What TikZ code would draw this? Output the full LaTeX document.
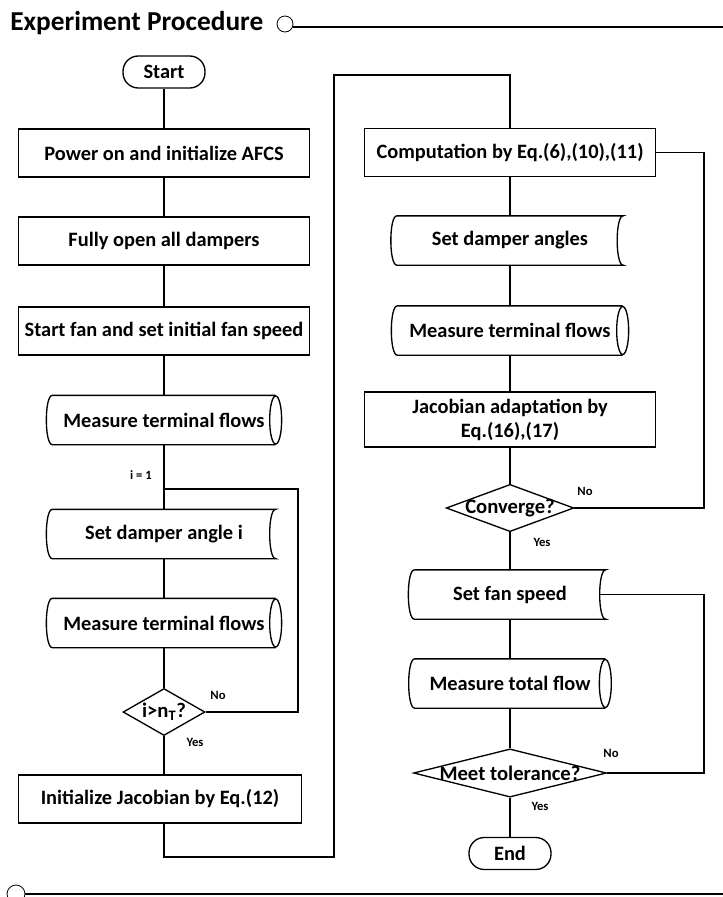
\documentclass[tikz,border=0pt]{standalone}
\usepackage{fontspec}
\setmainfont{Carlito}
\usetikzlibrary{shapes.geometric}

\tikzset{
  conn/.style={line width=1pt},
  base/.style={font=\bfseries\fontsize{15.3}{18}\selectfont, inner sep=0pt, line width=1pt},
  term/.style={base, draw, rounded corners=11.5pt, minimum width=61.5pt, minimum height=24pt},
  proc/.style={base, draw, minimum width=218.5pt, minimum height=36pt},
  store/.style={base, minimum width=166.5pt, minimum height=36pt},
  decide/.style={base, draw, diamond, font=\bfseries\fontsize{15.5}{18}\selectfont},
  tag/.style={font=\bfseries\fontsize{9.5}{11}\selectfont, inner sep=0pt},
}

\begin{document}
\begin{tikzpicture}[x=0.75pt,y=0.75pt,yscale=-1,xscale=1]
\useasboundingbox (0,0) rectangle (723,897);

% Title bar
\node[anchor=west, font=\bfseries\fontsize{20.5}{24}\selectfont, inner sep=0pt] (title) at (10,23) {Experiment Procedure};
\draw[line width=0.6pt] (285,24) circle [radius=8];
\draw[line width=1.6pt] (293,27) -- (723,27);

% Left column
\node[term] (start) at (164,72) {Start};
\node[proc] (power) at (164,153) {Power on and initialize AFCS};
\node[proc] (open) at (164,241) {Fully open all dampers};
\node[proc] (fan) at (164,331) {Start fan and set initial fan speed};
\node[store] (flowa) at (164,420) {Measure terminal flows};
\coordinate (iset) at (164,489);
\node[store] (angi) at (164,534) {Set damper angle i};
\node[store] (flowb) at (164,623) {Measure terminal flows};
\node[decide, minimum width=61.5pt, minimum height=35.25pt, aspect=1.75] (done) at (164,712) {i>n\textsubscript{T}?};
\node[proc, minimum width=212.5pt] (initj) at (160,799) {Initialize Jacobian by Eq.(12)};

% Right column
\node[proc] (comp) at (510,152.5) {Computation by Eq.(6),(10),(11)};
\node[store, minimum width=168.75pt] (angs) at (510,240.5) {Set damper angles};
\node[store, minimum width=168pt] (flowc) at (510,330.5) {Measure terminal flows};
\node[proc, minimum height=41.25pt, align=center] (adapt) at (510,419.5) {Jacobian adaptation by\\Eq.(16),(17)};
\node[decide, aspect=2.7, inner sep=-1pt] (conv) at (510,508) {Converge?};
\node[store, minimum width=142.5pt] (speed) at (510,594.5) {Set fan speed};
\node[store, minimum width=142pt] (flowt) at (510,683.5) {Measure total flow};
\node[decide, aspect=4, inner sep=-0.5pt] (tol) at (510,773) {Meet tolerance?};
\node[term] (end) at (510,853.5) {End};

% stored data outlines
\foreach \n in {angi,angs,speed}
  \draw[conn] (\n.north west) -- (\n.north east)
    .. controls ([xshift=-6pt]\n.north east) and ([xshift=-6pt]\n.south east) .. (\n.south east)
    -- (\n.south west)
    .. controls ([xshift=-6pt]\n.south west) and ([xshift=-6pt]\n.north west) .. (\n.north west) -- cycle;

% drum outlines
\foreach \n in {flowa,flowb,flowc,flowt}
  \draw[conn] (\n.north east) -- (\n.north west)
    .. controls ([xshift=-6pt]\n.north west) and ([xshift=-6pt]\n.south west) .. (\n.south west)
    -- (\n.south east)
    (\n.east) ellipse [x radius=6, y radius=24];

% Connectors, left
\draw[conn] (start) -- (power);
\draw[conn] (power) -- (open);
\draw[conn] (open) -- (fan);
\draw[conn] (fan) -- (flowa);
\draw[conn] (flowa) -- (angi);
\draw[conn] (angi) -- (flowb);
\draw[conn] (flowb) -- (done);
\draw[conn] (done.south) -- (done.south |- initj.north);
\coordinate (backi) at (298,489);
\draw[conn] (done.east) -| (backi) -- (iset);

% Jump to the right column
\coordinate (jumpa) at (334,857);
\coordinate (jumpb) at (334,75);
\draw[conn] (initj.south -| done.south) |- (jumpa) -- (jumpb) -| (comp.north);

% Connectors, right
\draw[conn] (comp) -- (angs);
\draw[conn] (angs) -- (flowc);
\draw[conn] (flowc) -- (adapt);
\draw[conn] (adapt) -- (conv);
\draw[conn] (conv) -- (speed);
\draw[conn] (speed) -- (flowt);
\draw[conn] (flowt) -- (tol);
\draw[conn] (tol) -- (end);
\coordinate (backc) at (704,152.5);
\draw[conn] (conv.east) -| (backc) -- (comp.east);
\coordinate (backs) at (704,594.5);
\draw[conn] (tol.east) -| (backs) -- ([xshift=-4.5pt]speed.east);

% Labels
\node[tag] (ione) at (141,475) {i = 1};
\node[tag] (nodone) at (218,695) {No};
\node[tag] (yesdone) at (195,742) {Yes};
\node[tag] (noconv) at (585,491) {No};
\node[tag] (yesconv) at (542,542) {Yes};
\node[tag] (notol) at (611,753) {No};
\node[tag] (yestol) at (540,806) {Yes};

% Bottom bar
\draw[line width=0.6pt] (16,894) circle [radius=9];
\draw[line width=1.6pt] (25,894) -- (723,894);

\end{tikzpicture}
\end{document}
